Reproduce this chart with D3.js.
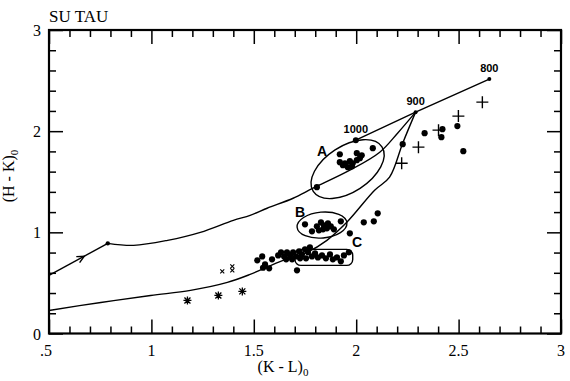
<!DOCTYPE html>
<html><head><meta charset="utf-8">
<script src="https://cdn.jsdelivr.net/npm/d3@7"></script>
<style>body{margin:0;background:#fff} svg{display:block}</style>
</head><body>
<svg id="c" width="570" height="381"></svg>
<script>
// ---------- data ----------
const title = "SU TAU";
const xTicks = [0.5, 1, 1.5, 2, 2.5, 3];
const xTickLabels = [".5", "1", "1.5", "2", "2.5", "3"];
const yTicks = [0, 1, 2, 3];
const yTickLabels = ["0", "1", "2", "3"];

// filled circles (K-L, H-K)
const dotsA = [[1.920,1.772],[2.003,1.782],[2.081,1.832],[2.027,1.762],[1.920,1.693],[1.945,1.683],
  [1.969,1.703],[1.983,1.683],[1.959,1.644],[2.003,1.713],[2.018,1.733],[1.935,1.663],[1.979,1.653],[1.808,1.446]];
const dotsB = [[1.750,1.079],[1.784,1.010],[1.808,1.059],[1.828,1.099],[1.842,1.069],[1.857,1.040],
  [1.876,1.059],[1.891,1.030],[1.925,1.109],[1.818,1.020],[1.838,1.030],[1.862,1.089]];
const dotsC = [[1.517,0.723],[1.541,0.762],[1.555,0.683],[1.575,0.644],[1.589,0.733],[1.619,0.772],
  [1.633,0.802],[1.648,0.762],[1.662,0.802],[1.677,0.772],[1.692,0.802],[1.706,0.762],[1.721,0.812],
  [1.735,0.782],[1.750,0.832],[1.765,0.802],[1.774,0.851],[1.784,0.762],[1.755,0.743],[1.799,0.792],
  [1.813,0.752],[1.833,0.772],[1.852,0.743],[1.872,0.782],[1.886,0.733],[1.906,0.752],[1.925,0.713],
  [1.940,0.772],[1.964,0.802],[1.711,0.624],[1.726,0.743],[1.687,0.733],[1.658,0.733],[1.545,0.650]];
const dotsOther = [[1.969,0.990],[2.037,1.099],[2.086,1.109],[2.105,1.188],
  [2.227,1.871],[2.334,1.980],[2.421,2.020],[2.416,1.941],[2.494,2.050],[2.523,1.802]];
const plusPts = [[2.616,2.287],[2.499,2.149],[2.402,2.010],[2.304,1.842],[2.222,1.683]];
const asteriskPts = [[1.176,0.327],[1.327,0.376],[1.444,0.416]];
const crossPts = [[1.346,0.614],[1.395,0.663],[1.395,0.624]];

// model tracks
const upperStart = [[0.5,0.574],[0.787,0.891]];
const upperTrack = [[0.787,0.891],[0.913,0.871],[1.079,0.921],[1.239,1.000],[1.400,1.119],[1.482,1.168],
  [1.565,1.238],[1.692,1.337],[1.789,1.436],[1.969,1.614],[2.115,1.792],[2.202,1.980],[2.290,2.188]];
const lowerTrack = [[0.5,0.228],[0.753,0.307],[0.996,0.376],[1.191,0.426],[1.371,0.505],[1.482,0.584],
  [1.643,0.723],[1.760,0.802],[1.857,0.921],[1.954,1.099],[2.090,1.416],[2.163,1.545],[2.227,1.881],[2.290,2.188]];
const massTrack = [[1.998,1.911],[2.290,2.188],[2.650,2.515]];
const massLabels = ["1000", "900", "800"];

// groups
const groupLabels = ["A", "B", "C"];
const groupLabelPos = [[1.833,1.803],[1.726,1.200],[2.004,0.904]];
const ellipseA = {cx:1.958, cy:1.625, rx:0.200, ry:0.227, angle:-33};
const ellipseB = {cx:1.833, cy:1.072, rx:0.122, ry:0.128, angle:-5};
const boxC = {x0:1.701, x1:1.983, y0:0.673, y1:0.832};

// ---------- drawing ----------
const svg = d3.select("#c");
const L = 49, R = 561, T = 30, B = 333.5;
const x = d3.scaleLinear().domain([0.5, 3]).range([L, R]);
const y = d3.scaleLinear().domain([0, 3]).range([B, T]);
const serif = "'Liberation Serif','Times New Roman',serif";
const sans = "'Liberation Sans',Arial,sans-serif";

// frame
svg.append("rect").attr("x", L).attr("y", T).attr("width", R - L).attr("height", B - T)
  .attr("fill", "none").attr("stroke", "#000").attr("stroke-width", 2.2);

// inward ticks on all four sides with d3 axes (negative tick size = inward)
const xMinor = d3.range(0, 26).map(i => +(0.5 + i * 0.1).toFixed(2)).filter(v => Math.abs(v * 2 - Math.round(v * 2)) > 1e-6);
const yMinor = d3.range(0, 16).map(i => +(i * 0.2).toFixed(2)).filter(v => Math.abs(v - Math.round(v)) > 1e-6);
function addAxis(axis, tr) {
  const g = svg.append("g").attr("transform", tr).call(axis);
  g.select(".domain").remove();
  g.selectAll(".tick text").remove();
  g.selectAll(".tick line").attr("stroke", "#000").attr("stroke-width", 1.5);
}
addAxis(d3.axisBottom(x).tickValues(xTicks).tickSize(-14), `translate(0,${B})`);
addAxis(d3.axisBottom(x).tickValues(xMinor).tickSize(-7), `translate(0,${B})`);
addAxis(d3.axisTop(x).tickValues(xTicks).tickSize(-14), `translate(0,${T})`);
addAxis(d3.axisTop(x).tickValues(xMinor).tickSize(-7), `translate(0,${T})`);
addAxis(d3.axisLeft(y).tickValues(yTicks).tickSize(-14), `translate(${L},0)`);
addAxis(d3.axisLeft(y).tickValues(yMinor).tickSize(-7), `translate(${L},0)`);
addAxis(d3.axisRight(y).tickValues(yTicks).tickSize(-14), `translate(${R},0)`);
addAxis(d3.axisRight(y).tickValues(yMinor).tickSize(-7), `translate(${R},0)`);

// tick labels
svg.append("g").selectAll("text").data(xTicks).join("text")
  .attr("x", d => x(d) - (d === 0.5 ? 3 : 0)).attr("y", 356).attr("text-anchor", "middle")
  .attr("font-family", serif).attr("font-size", 16).text((d, i) => xTickLabels[i]);
svg.append("g").selectAll("text").data(yTicks).join("text")
  .attr("x", 41).attr("y", d => y(d) + 6).attr("text-anchor", "end")
  .attr("font-family", serif).attr("font-size", 16).text((d, i) => yTickLabels[i]);

// title
svg.append("text").attr("x", 49).attr("y", 22).attr("font-family", serif).attr("font-size", 17)
  .text(title);

// axis titles
const xl = svg.append("text").attr("x", 283).attr("y", 372).attr("text-anchor", "middle")
  .attr("font-family", serif).attr("font-size", 16);
xl.append("tspan").text("(K - L)");
xl.append("tspan").attr("dy", 4).attr("font-size", 11).text("0");
const yl = svg.append("text").attr("transform", "translate(14,176) rotate(-90)").attr("text-anchor", "middle")
  .attr("font-family", serif).attr("font-size", 16);
yl.append("tspan").text("(H - K)");
yl.append("tspan").attr("dy", 4).attr("font-size", 11).text("0");

// tracks
const lineLin = d3.line().x(d => x(d[0])).y(d => y(d[1]));
const lineSm = d3.line().x(d => x(d[0])).y(d => y(d[1])).curve(d3.curveCatmullRom.alpha(0.5));
const tracks = svg.append("g").attr("fill", "none").attr("stroke", "#000").attr("stroke-width", 1.4);
tracks.append("path").attr("d", lineLin(upperStart));
tracks.append("path").attr("d", lineSm(upperTrack));
tracks.append("path").attr("d", lineSm(lowerTrack));
tracks.append("path").attr("d", lineLin(massTrack));

// arrowhead on first segment
{
  const p0 = [x(upperStart[0][0]), y(upperStart[0][1])], p1 = [x(upperStart[1][0]), y(upperStart[1][1])];
  const t = 0.6, px = p0[0] + (p1[0] - p0[0]) * t, py = p0[1] + (p1[1] - p0[1]) * t;
  const ang = Math.atan2(p1[1] - p0[1], p1[0] - p0[0]);
  const len = 8, spread = 0.45;
  const b1 = [px - len * Math.cos(ang - spread), py - len * Math.sin(ang - spread)];
  const b2 = [px - len * Math.cos(ang + spread), py - len * Math.sin(ang + spread)];
  tracks.append("path").attr("d", `M${b1}L${px},${py}L${b2}`);
}

// mass points + labels
svg.append("g").selectAll("circle").data(massTrack).join("circle")
  .attr("cx", d => x(d[0])).attr("cy", d => y(d[1])).attr("r", (d, i) => i === 0 ? 3 : 2);
svg.append("circle").attr("cx", x(upperStart[1][0])).attr("cy", y(upperStart[1][1])).attr("r", 2.2);
svg.append("g").selectAll("text").data(massTrack).join("text")
  .attr("x", d => x(d[0])).attr("y", d => y(d[1]) - 7).attr("text-anchor", "middle")
  .attr("font-family", sans).attr("font-weight", "bold").attr("font-size", 11)
  .text((d, i) => massLabels[i]);

// group outlines
const ov = svg.append("g").attr("fill", "none").attr("stroke", "#000").attr("stroke-width", 1.4);
[ellipseA, ellipseB].forEach(e => {
  ov.append("ellipse").attr("cx", x(e.cx)).attr("cy", y(e.cy))
    .attr("rx", x(e.cx + e.rx) - x(e.cx)).attr("ry", y(e.cy) - y(e.cy + e.ry))
    .attr("transform", `rotate(${e.angle},${x(e.cx)},${y(e.cy)})`);
});
ov.append("rect").attr("x", x(boxC.x0)).attr("y", y(boxC.y1))
  .attr("width", x(boxC.x1) - x(boxC.x0)).attr("height", y(boxC.y0) - y(boxC.y1)).attr("rx", 6);
svg.append("g").selectAll("text").data(groupLabelPos).join("text")
  .attr("x", d => x(d[0])).attr("y", d => y(d[1]) + 5).attr("text-anchor", "middle")
  .attr("font-family", sans).attr("font-weight", "bold").attr("font-size", 14)
  .text((d, i) => groupLabels[i]);

// filled circles
const allDots = [...dotsA, ...dotsB, ...dotsC, ...dotsOther];
svg.append("g").selectAll("circle").data(allDots).join("circle")
  .attr("cx", d => x(d[0])).attr("cy", d => y(d[1])).attr("r", 3.1).attr("fill", "#000");

// plus signs, asterisks, small crosses
const sym = svg.append("g").attr("stroke", "#000").attr("fill", "none");
plusPts.forEach(d => {
  const cx = x(d[0]), cy = y(d[1]), h = 6;
  sym.append("path").attr("stroke-width", 1.4).attr("d", `M${cx - h},${cy}H${cx + h}M${cx},${cy - h}V${cy + h}`);
});
asteriskPts.forEach(d => {
  const cx = x(d[0]), cy = y(d[1]), h = 4;
  const dd = h * 0.75;
  sym.append("path").attr("stroke-width", 1.3)
    .attr("d", `M${cx},${cy - h}V${cy + h}M${cx - dd},${cy - dd}L${cx + dd},${cy + dd}M${cx - dd},${cy + dd}L${cx + dd},${cy - dd}M${cx - h},${cy}H${cx + h}`);
});
crossPts.forEach(d => {
  const cx = x(d[0]), cy = y(d[1]), h = 2;
  sym.append("path").attr("stroke-width", 1.1)
    .attr("d", `M${cx - h},${cy - h}L${cx + h},${cy + h}M${cx - h},${cy + h}L${cx + h},${cy - h}`);
});
</script>
</body></html>
